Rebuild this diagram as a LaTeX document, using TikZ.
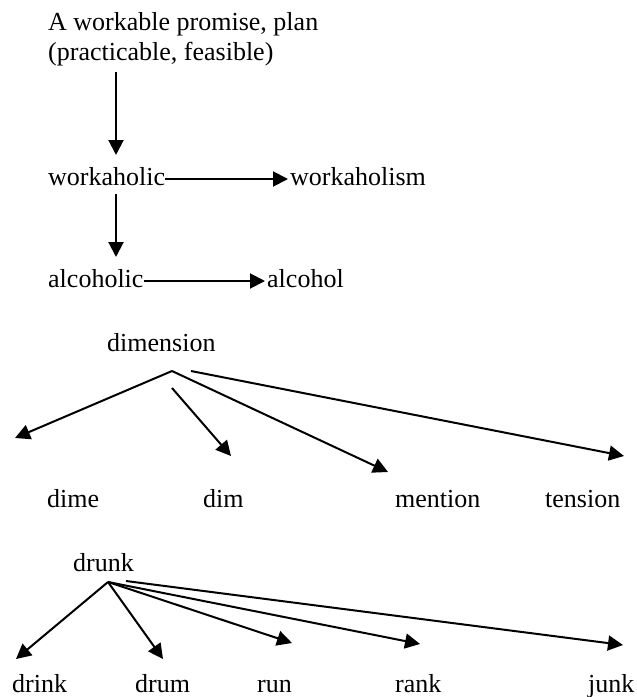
\documentclass[tikz,border=0pt]{standalone}
\usepackage{fontspec}
\setmainfont{Liberation Serif}
\usetikzlibrary{arrows.meta}
\begin{document}
\begin{tikzpicture}[x=1pt,y=-1pt,
  lbl/.style={inner sep=0pt, anchor=base west, font=\fontsize{26}{30}\selectfont},
  arr/.style={line width=2pt, -{Triangle[length=15pt,width=15pt]}}]
\useasboundingbox (0,0) rectangle (637,697);
% top chain
\node[lbl] (l1) at (48,30) {A workable promise, plan};
\node[lbl] (l2) at (48,60) {(practicable, feasible)};
\node[lbl] (wh) at (48,185) {workaholic};
\node[lbl] (whm) at (290,185) {workaholism};
\node[lbl] (alc) at (48,287) {alcoholic};
\node[lbl] (al) at (267,287) {alcohol};
\coordinate (a1s) at (116,72);
\coordinate (a1e) at (116,155);
\coordinate (a2s) at (116,194);
\coordinate (a2e) at (116,257);
\draw[arr] (a1s) -- (a1e);
\draw[arr] (a2s) -- (a2e);
\draw[arr] ([yshift=6pt]wh.base east) -- ([yshift=6pt,xshift=-2pt]whm.base west);
\draw[arr] ([yshift=6pt]alc.base east) -- ([yshift=6pt,xshift=-2pt]al.base west);
% dimension tree
\node[lbl] (dimn) at (107,351) {dimension};
\node[lbl] (dime) at (47,507) {dime};
\node[lbl] (dim) at (203,507) {dim};
\node[lbl] (ment) at (395,507) {mention};
\node[lbl] (tens) at (545,507) {tension};
\coordinate (dA) at (172,371);
\coordinate (dB) at (172,388);
\coordinate (dC) at (191,371);
\coordinate (tdime) at (15,438);
\coordinate (tdim) at (231,456);
\coordinate (tment) at (388,472);
\coordinate (ttens) at (624,456);
\draw[arr] (dA) -- (tdime);
\draw[arr] (dB) -- (tdim);
\draw[arr] (dA) -- (tment);
\draw[arr] (dC) -- (ttens);
% drunk tree
\node[lbl] (drunk) at (73,571) {drunk};
\node[lbl] (drink) at (12,692) {drink};
\node[lbl] (drum) at (135,692) {drum};
\node[lbl] (run) at (257,692) {run};
\node[lbl] (rank) at (395,692) {rank};
\node[lbl] (junk) at (588,692) {junk};
\coordinate (kA) at (108,582);
\coordinate (kB) at (126,581);
\coordinate (tdrink) at (16,659);
\coordinate (tdrum) at (163,659);
\coordinate (trun) at (292,643);
\coordinate (trank) at (420,644);
\coordinate (tjunk) at (623,645);
\draw[arr] (kA) -- (tdrink);
\draw[arr] (kA) -- (tdrum);
\draw[arr] (kA) -- (trun);
\draw[arr] (kA) -- (trank);
\draw[arr] (kB) -- (tjunk);
\end{tikzpicture}
\end{document}
